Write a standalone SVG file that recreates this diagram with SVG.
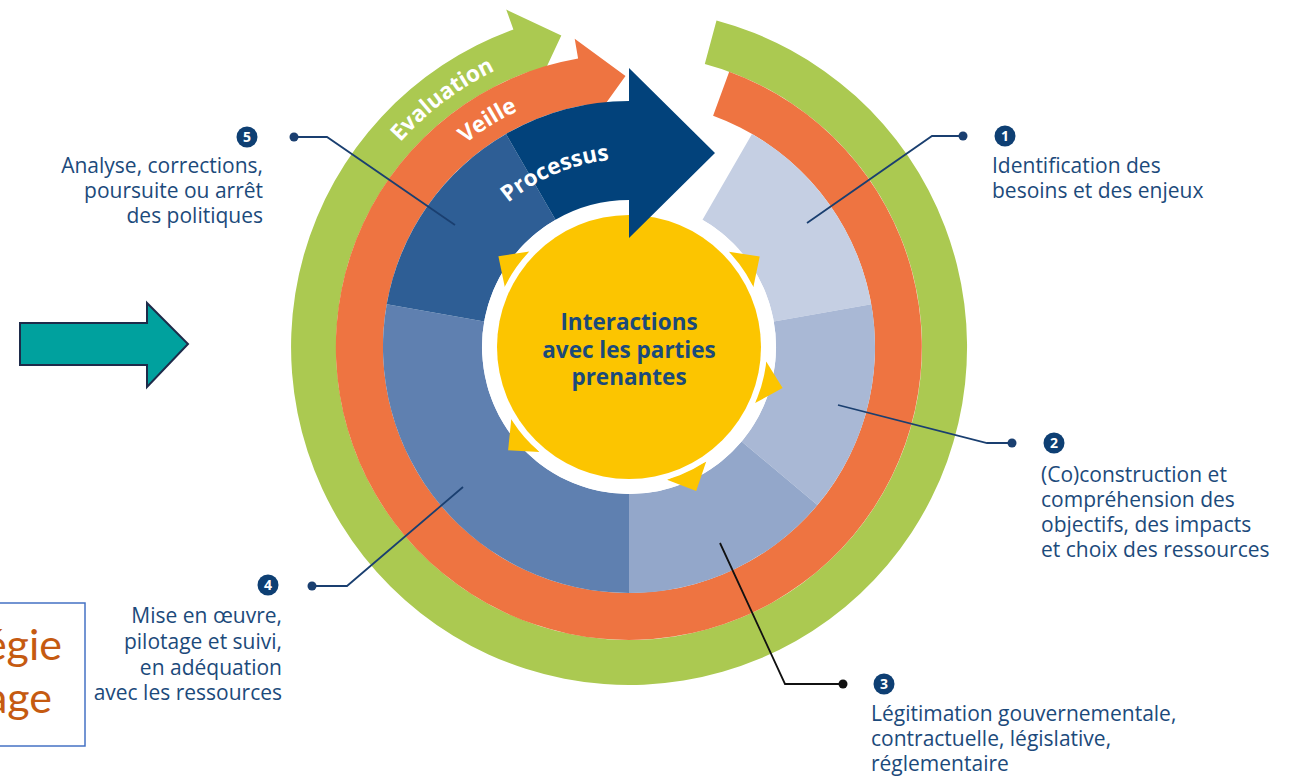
<svg xmlns="http://www.w3.org/2000/svg" xmlns:xlink="http://www.w3.org/1999/xlink" width="1294" height="777" viewBox="0 0 1294 777">
<style>
.lbl{font-family:"Open Sans","DejaVu Sans",sans-serif;font-size:21px;fill:#1c4a7b}
.num{font-family:"Open Sans","DejaVu Sans",sans-serif;font-size:14px;font-weight:bold;fill:#ffffff}
.arc{font-family:"Open Sans","DejaVu Sans",sans-serif;font-size:22.5px;font-weight:bold;fill:#ffffff}
.ctr{font-family:"Open Sans","DejaVu Sans",sans-serif;font-size:22.5px;font-weight:bold;fill:#1b4a7a}
.badge{fill:#0e3f73}
.conn{fill:none;stroke:#1a3f70;stroke-width:1.8}
.conn-dark{fill:none;stroke:#111111;stroke-width:1.8}
.tri{fill:#fcc500}
</style>
<defs>
<path id="pEval" d="M 329.9 277.9 A 307 307 0 0 1 645.1 40.4"/>
<path id="pVeille" d="M 380.8 266.3 A 261 261 0 0 1 665.3 88.5"/>
<path id="pProc" d="M 461.5 261.6 A 188 188 0 0 1 684.0 167.2"/>
</defs>
<rect width="1294" height="777" fill="#ffffff"/>

<g id="left-arrow">
<polygon points="20,323 147,323 147,303 188,344 147,387 147,365 20,365" fill="#00a19e" stroke="#1e2b4a" stroke-width="2"/>
</g>
<g id="left-box">
<rect x="-5" y="603" width="90" height="143" fill="#ffffff" stroke="#4472c4" stroke-width="1.5"/>
<text x="62" y="660" text-anchor="end" font-family="Lato,'Open Sans',sans-serif" font-size="43" fill="#c55a11">égie</text>
<text x="52" y="713" text-anchor="end" font-family="Lato,'Open Sans',sans-serif" font-size="43" fill="#c55a11">age</text>
</g>

<g id="ring-evaluation">
<path d="M 704.8 64.0 L 716.5 20.5 A 338 338 0 1 1 513.4 29.4 L 506.2 9.6 L 561.3 35.4 L 535.6 90.5 L 528.8 71.7 A 293 293 0 1 0 704.8 64.0 Z" fill="#abc951"/>
<text class="arc"><textPath xlink:href="#pEval" href="#pEval" startOffset="50%" text-anchor="middle">Evaluation</textPath></text>
</g>
<g id="ring-veille">
<path d="M 713.1 115.8 L 729.2 71.7 A 293 293 0 1 1 578.1 58.4 L 574.7 38.8 L 625.5 76 L 589.9 125.4 L 586.3 104.7 A 246 246 0 1 0 713.1 115.8 Z" fill="#ee7441"/>
<text class="arc"><textPath xlink:href="#pVeille" href="#pVeille" startOffset="50%" text-anchor="middle">Veille</textPath></text>
</g>

<g id="segment-1"><path d="M 752 134 A 246 246 0 0 1 871.3 304.3 L 773.8 321.5 A 147 147 0 0 0 702.5 219.7 Z" fill="#c5cfe3"/></g>
<g id="segment-2"><path d="M 871.3 304.3 A 246 246 0 0 1 817.4 505.1 L 741.6 441.5 A 147 147 0 0 0 773.8 321.5 Z" fill="#a9b8d5"/></g>
<g id="segment-3"><path d="M 817.4 505.1 A 246 246 0 0 1 629 593 L 629 494 A 147 147 0 0 0 741.6 441.5 Z" fill="#93a7ca"/></g>
<g id="segment-4"><path d="M 629 593 A 246 246 0 0 1 386.7 304.3 L 484.2 321.5 A 147 147 0 0 0 629 494 Z" fill="#5f80b0"/></g>
<g id="segment-5"><path d="M 386.7 304.3 A 246 246 0 0 1 506 134 L 555.5 219.7 A 147 147 0 0 0 484.2 321.5 Z" fill="#2e5e95"/></g>

<g id="center">
<circle cx="629" cy="347" r="147" fill="#ffffff"/>
<polygon class="tri" points="728.8,251.7 759.7,256.5 753.4,287.1"/>
<polygon class="tri" points="766.2,361.4 782.6,388.1 755.1,403.1"/>
<polygon class="tri" points="706.2,461.4 696.2,491.1 667.0,479.7"/>
<polygon class="tri" points="539.4,451.9 508.1,450.3 511.3,419.1"/>
<polygon class="tri" points="504.8,286.9 498.4,256.3 529.4,251.5"/>
<circle cx="629" cy="347" r="135" fill="none" stroke="#ffffff" stroke-width="6"/>
<circle cx="629" cy="347" r="132" fill="#fcc500"/>
<text class="ctr" x="629" y="330" text-anchor="middle">Interactions</text>
<text class="ctr" x="629" y="358" text-anchor="middle">avec les parties</text>
<text class="ctr" x="629" y="385" text-anchor="middle">prenantes</text>
</g>

<g id="processus">
<path d="M 506 134 A 246 246 0 0 1 629 101 L 629 68 L 715 153 L 629 238 L 629 200 A 147 147 0 0 0 555.5 219.7 Z" fill="#02427b"/>
<text class="arc"><textPath xlink:href="#pProc" href="#pProc" startOffset="50%" text-anchor="middle">Processus</textPath></text>
</g>

<g id="connectors">
<path class="conn" d="M 963 136 L 932 136 L 807 223"/>
<path class="conn" d="M 1012 443 L 987 443 L 838 405"/>
<path class="conn-dark" d="M 843 684 L 785 684 L 720 543"/>
<path class="conn" d="M 312 586 L 347 586 L 463 487"/>
<path class="conn" d="M 294 137 L 327 137 L 455 225"/>
<circle cx="963" cy="136" r="4.5" fill="#1a3f70"/>
<circle cx="1012" cy="443" r="4.5" fill="#1a3f70"/>
<circle cx="843" cy="684" r="4.5" fill="#111111"/>
<circle cx="312" cy="586" r="4.5" fill="#1a3f70"/>
<circle cx="294" cy="137" r="4.5" fill="#1a3f70"/>
</g>

<g id="label-1">
<circle class="badge" cx="1005" cy="136" r="10.5"/>
<text class="num" x="1005" y="141" text-anchor="middle">1</text>
<text class="lbl" x="992" y="173">Identification des</text>
<text class="lbl" x="992" y="198">besoins et des enjeux</text>
</g>
<g id="label-2">
<circle class="badge" cx="1054" cy="443" r="10.5"/>
<text class="num" x="1054" y="448" text-anchor="middle">2</text>
<text class="lbl" x="1041" y="482">(Co)construction et</text>
<text class="lbl" x="1041" y="507">compréhension des</text>
<text class="lbl" x="1041" y="532">objectifs, des impacts</text>
<text class="lbl" x="1041" y="557">et choix des ressources</text>
</g>
<g id="label-3">
<circle class="badge" cx="884" cy="684" r="10.5"/>
<text class="num" x="884" y="689" text-anchor="middle">3</text>
<text class="lbl" x="871" y="721">Légitimation gouvernementale,</text>
<text class="lbl" x="871" y="746">contractuelle, législative,</text>
<text class="lbl" x="871" y="771">réglementaire</text>
</g>
<g id="label-4">
<circle class="badge" cx="268" cy="585" r="10.5"/>
<text class="num" x="268" y="590" text-anchor="middle">4</text>
<text class="lbl" x="282" y="623" text-anchor="end">Mise en œuvre,</text>
<text class="lbl" x="282" y="649" text-anchor="end">pilotage et suivi,</text>
<text class="lbl" x="282" y="675" text-anchor="end">en adéquation</text>
<text class="lbl" x="282" y="700" text-anchor="end">avec les ressources</text>
</g>
<g id="label-5">
<circle class="badge" cx="247" cy="137" r="10.5"/>
<text class="num" x="247" y="142" text-anchor="middle">5</text>
<text class="lbl" x="263" y="173" text-anchor="end">Analyse, corrections,</text>
<text class="lbl" x="263" y="198" text-anchor="end">poursuite ou arrêt</text>
<text class="lbl" x="263" y="223" text-anchor="end">des politiques</text>
</g>
</svg>
